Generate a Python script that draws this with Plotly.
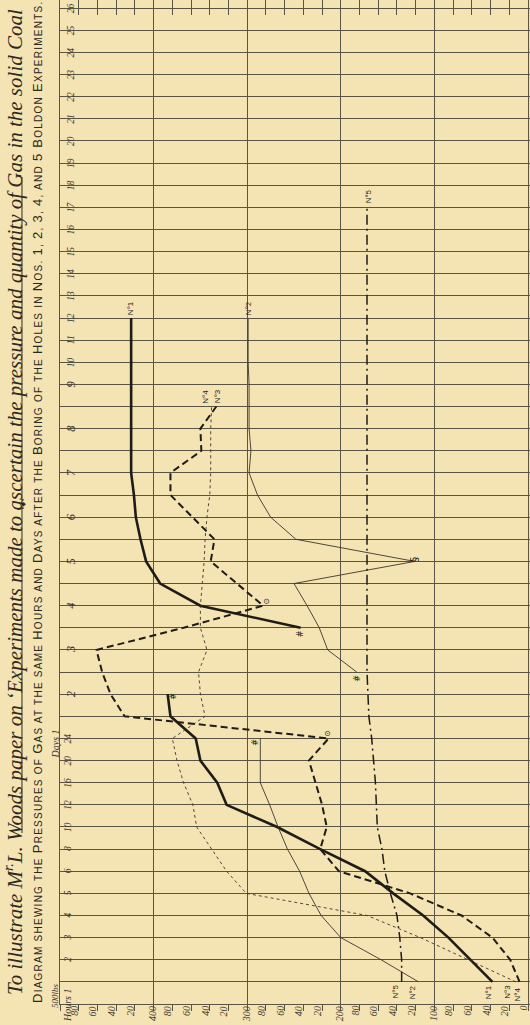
import plotly.graph_objects as go

BG = "#f4e3b3"
INK = "#1f1c17"
SOFT = "#3b372f"
GRID = "#5a5444"
SERIF = "Liberation Serif"
SANS = "Liberation Sans"

# ---- time axis (rows of the diagram) ----
hour_ticks = ["1", "2", "3", "4", "5", "6", "8", "10", "12", "16", "20", "24"]
day_ticks = ["1½", "2", "2½", "3", "3½", "4", "4½", "5", "5½", "6", "6½", "7", "7½", "8", "8½", "9",
             "10", "11", "12", "13", "14", "15", "16", "17", "18", "19", "20", "21", "22", "23",
             "24", "25", "26"]
time_keys = [h + " h" for h in hour_ticks] + [d + " d" for d in day_ticks]

# ---- pressures in lbs, one value per row (None = no reading) ----
no1 = [38, 61, 85, 112, 144, 174, 222, 268, 322, 332, 350, 355, 382, 385, None, None,
       243, 350, 393, 408, 414, 419, 421, 424, 424, 424, 424, 424, 424, 424, 424,
       None, None, None, None, None, None, None, None, None, None, None, None, None, None]
no2 = [117, 157, 200, 221, 234, 244, 257, 267, 276, 286, 286, 286, None, None,
       183, 214, 223, 236, 250, 121, 248, 275, 289, 298, 296, 298, 298, 298, 299, 299, 299,
       None, None, None, None, None, None, None, None, None, None, None, None, None, None]
no3 = [13, 64, 115, 172, 301, 322, 338, 354, 358, 368, 375, 380, 345, 350, 352, 343,
       350, 350, 348, 346, 345, 343, 340, 339, 339, 339, 338,
       None, None, None, None, None, None, None, None, None, None, None, None, None, None,
       None, None, None, None]
no4 = [9, 19, 38, 71, 126, 202, 222, 215, 220, 227, 234, 213, 431, 446, 455, 461,
       368, 283, 311, 339, 335, 359, 382, 382, 349, 350, 333,
       None, None, None, None, None, None, None, None, None, None, None, None, None, None,
       None, None, None, None]
no5 = [135, 135, 137, 140, 147, 153, 156, 161, 162, 163, 165, 167, 170, 171,
       172, 172, 172, 172, 172, 172, 172, 172, 172, 172, 172, 172, 172, 172, 172, 172,
       172, 172, 172, 172, 172, 172,
       None, None, None, None, None, None, None, None, None]

# ---- pressure axis labels ----
lbs_vals = [480, 460, 440, 420, 400, 380, 360, 340, 320, 300, 280, 260, 240, 220, 200,
            180, 160, 140, 120, 100, 80, 60, 40, 20, 0]
lbs_text = ["80", "60", "40", "20", "400", "80", "60", "40", "20", "300", "80", "60", "40", "20",
            "200", "80", "60", "40", "20", "100", "80", "60", "40", "20", "0"]

series = [
    ("N°1", no1, dict(color=INK, width=2.6)),
    ("N°2", no2, dict(color=SOFT, width=0.9)),
    ("N°3", no3, dict(color=SOFT, width=0.9, dash="3px,3px")),
    ("N°4", no4, dict(color=INK, width=2.0, dash="7px,4px")),
    ("N°5", no5, dict(color=INK, width=1.5, dash="10px,4px,2px,4px")),
]

fig = go.Figure()
for name, vals, line in series:
    fig.add_trace(go.Scatter(x=vals, y=time_keys, mode="lines", name=name, line=line,
                             connectgaps=False, showlegend=False, hoverinfo="skip"))
# carrier for the top tick axis
fig.add_trace(go.Scatter(x=[None], y=[None], xaxis="x2", showlegend=False, hoverinfo="skip"))

ann = []


def A(**kw):
    base = dict(showarrow=False, textangle=-90, xanchor="center", yanchor="middle",
                font=dict(family=SERIF, size=10, color=SOFT))
    base.update(kw)
    ann.append(base)


# row labels
for h in hour_ticks[1:]:
    A(text="<i>%s</i>" % h, xref="paper", x=0, xshift=8, yref="y", y=h + " h",
      font=dict(family=SERIF, size=9.5, color=SOFT))
for d in day_ticks:
    if "½" in d:
        continue
    size = 12.5 if int(d) <= 9 else 9.5
    A(text="<i>%s</i>" % d, xref="paper", x=0, xshift=11, yref="y", y=d + " d",
      font=dict(family=SERIF, size=size, color=SOFT))
A(text="<i>Days 1</i>", xref="paper", x=0, xshift=-5, yref="y", y="24 h", yshift=-6,
  font=dict(family=SERIF, size=10, color=SOFT))
A(text="<i>Hours 1</i>", xref="paper", x=0, xshift=7, yref="paper", y=0, yshift=-1,
  font=dict(family=SERIF, size=10, color=SOFT))
A(text="<i>500lbs</i>", xref="paper", x=0, xshift=-5, yref="paper", y=0, yshift=8,
  font=dict(family=SERIF, size=9, color=SOFT))

# pressure labels under the diagram
for v, t in zip(lbs_vals, lbs_text):
    major = v % 100 == 0 and v > 0
    A(text="<i>%s</i>" % t, xref="x", x=v, xshift=(-1 if major else -5), yref="paper", y=0,
      yanchor="top", yshift=0, font=dict(family=SERIF, size=10, color=SOFT))


def first(vals):
    for i, v in enumerate(vals):
        if v is not None:
            return i


def last(vals):
    for i in range(len(vals) - 1, -1, -1):
        if vals[i] is not None:
            return i


# series names at both ends
start_shift = {"N°1": (-4, 0), "N°2": (-6, 0), "N°3": (-8, 0), "N°4": (-2, -3), "N°5": (-6, 0)}
end_shift = {"N°1": (-1, 1), "N°2": (0, 1), "N°3": (6, 1), "N°4": (-11, 1), "N°5": (1, 2)}
for name, vals, _ in series:
    i0, i1 = first(vals), last(vals)
    sx, sy = start_shift[name]
    A(text=name, xref="x", x=vals[i0], xshift=sx, yref="y", y=time_keys[i0], yanchor="top",
      yshift=sy - 1, font=dict(family=SANS, size=8, color=INK))
    ex, ey = end_shift[name]
    A(text=name, xref="x", x=vals[i1], xshift=ex, yref="y", y=time_keys[i1], yanchor="bottom",
      yshift=ey, font=dict(family=SANS, size=8, color=INK))

# special signs on the curves
signs = [("#", no1, "2 d", 6, -2), ("#", no1, "3½ d", 0, -6), ("#", no2, "24 h", -5, -4),
         ("#", no2, "2½ d", 0, -6), ("§", no2, "5 d", 0, 2), ("⊙", no4, "24 h", -1, 5),
         ("⊙", no4, "4 d", 4, 4)]
for s, vals, key, dx, dy in signs:
    A(text=s, xref="x", x=vals[time_keys.index(key)], xshift=dx, yref="y", y=key, yshift=dy,
      font=dict(family="DejaVu Sans", size=(11 if s == "§" else 8), color=INK))


# titles
def small_caps(s, big=13, small=10, spacing=1.25):
    parts, buf, cur = [], "", None
    for ch in s:
        if ch == " ":
            size = cur or small
            c = ch
        elif ch.islower() or ch in ".,":
            size, c = small, ch.upper()
        else:
            size, c = big, ch
        if size != cur and buf:
            parts.append('<span style="font-size:%dpx;letter-spacing:%.2fpx">%s</span>'
                         % (cur, spacing, buf))
            buf = ""
        cur = size
        buf += c
    if buf:
        parts.append('<span style="font-size:%dpx;letter-spacing:%.2fpx">%s</span>'
                     % (cur, spacing, buf))
    return "".join(parts)


A(text="<i>To illustrate M<sup>r.</sup>L. Woods paper on ‘Experiments made to ascertain the "
       "pressure and quantity of Gas in the solid Coal</i>",
  xref="paper", x=0, xshift=-47, yref="paper", y=0.5, yshift=0, borderpad=0,
  font=dict(family=SERIF, size=21, color="#2e2a22"))
A(text=small_caps("Diagram shewing the Pressures of Gas at the same Hours and Days after the "
                  "Boring of the Holes in Nos. 1, 2, 3, 4, and 5 Boldon Experiments."),
  xref="paper", x=0, xshift=-23, yref="paper", y=0.5, yshift=0,
  font=dict(family=SANS, size=12, color="#2a2620"))
A(text="•◆•", xref="paper", x=0, xshift=-38, yref="paper", y=0.498,
  font=dict(family="DejaVu Sans", size=6, color="#2a2620"))

shapes = [
    dict(type="line", xref="paper", yref="paper", x0=-0.0809, x1=-0.0809, y0=0.8237, y1=0.1703,
         line=dict(color="#2f2b24", width=1)),
]

fig.update_layout(
    width=530, height=1025,
    margin=dict(l=60, r=0, t=0, b=21),
    paper_bgcolor=BG, plot_bgcolor=BG,
    annotations=ann, shapes=shapes,
    xaxis=dict(range=[500, -2.14], tickmode="linear", tick0=0, dtick=100,
               showgrid=True, gridcolor=GRID, gridwidth=1, zeroline=False,
               showline=True, linecolor=GRID, linewidth=1,
               ticks="outside", ticklen=6, tickcolor=GRID, showticklabels=False,
               minor=dict(dtick=20, tick0=0, ticks="outside", ticklen=6, tickcolor=GRID,
                          showgrid=False)),
    xaxis2=dict(overlaying="x", side="top", anchor="y", range=[500, -2.14],
                tickmode="linear", tick0=0, dtick=100, showgrid=False, zeroline=False,
                showline=False, ticks="inside", ticklen=15, tickcolor=GRID,
                showticklabels=False,
                minor=dict(dtick=20, tick0=0, ticks="inside", ticklen=15, tickcolor=GRID,
                           showgrid=False)),
    yaxis=dict(type="category", categoryorder="array", categoryarray=time_keys,
               range=[-1, 44.37], tickmode="array", tickvals=time_keys,
               showgrid=True, gridcolor=GRID, gridwidth=1, zeroline=False,
               showline=True, linecolor=GRID, linewidth=1, ticks="",
               showticklabels=False),
)

fig.write_html("out.html")
